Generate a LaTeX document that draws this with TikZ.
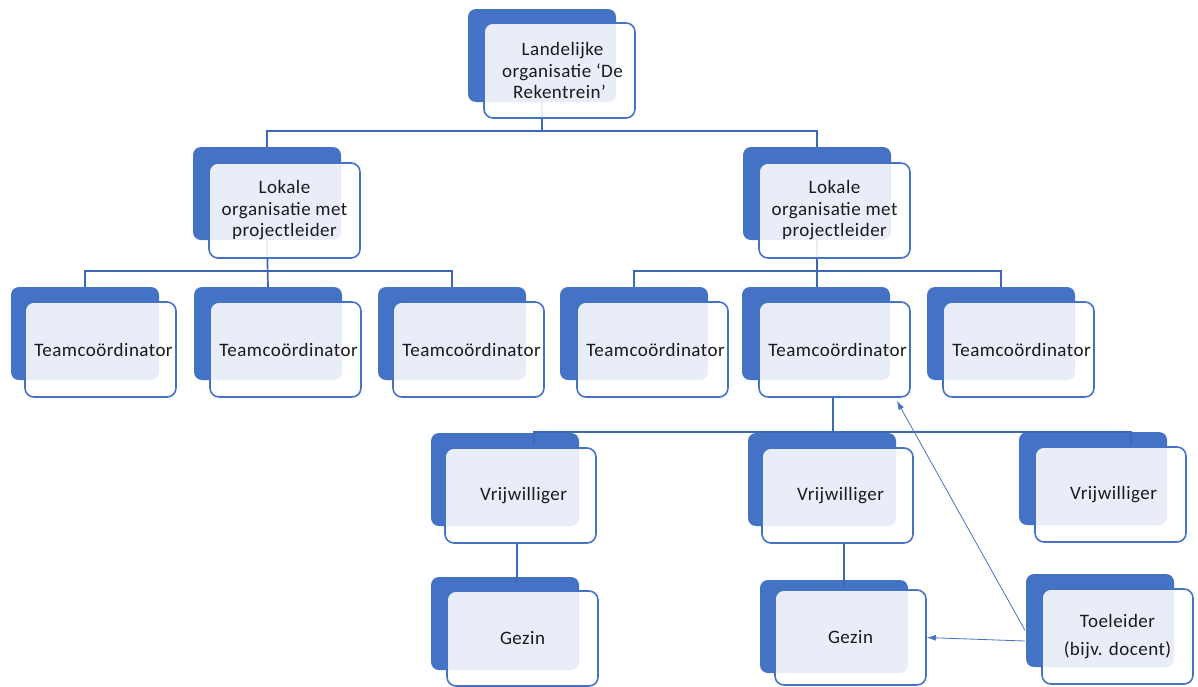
\documentclass[tikz,border=0pt]{standalone}
\usepackage{fontspec}
\setmainfont{Carlito}[LetterSpace=2.5]
\usetikzlibrary{arrows.meta,calc}
\pgfdeclarelayer{bg}
\pgfdeclarelayer{fg}
\pgfsetlayers{bg,main,fg}
\definecolor{acc}{HTML}{4472C4}
\definecolor{lnk}{HTML}{3D68B8}
\definecolor{txt}{HTML}{1A1A1A}
\tikzset{
  backbox/.style={draw=none, fill=acc, rounded corners=8pt, minimum width=148pt, minimum height=93pt, inner sep=0pt},
  frontbox/.style={draw=acc, line width=1.6pt, fill=white, fill opacity=0.88, text opacity=1, rounded corners=9pt,
    minimum width=151pt, minimum height=95pt, inner sep=0pt, align=center, text=txt,
    font=\fontsize{19}{21.5}\selectfont},
  conn/.style={draw=lnk, line width=1.7pt},
  arr/.style={draw=acc, line width=0.8pt, -{Latex[length=9pt,width=6pt]}}
}
\begin{document}
\begin{tikzpicture}[x=1pt,y=-1pt]
\useasboundingbox (0,0) rectangle (1198,686);
% back boxes
\begin{pgfonlayer}{bg}
\node[backbox] (topB) at (542,55.5) {};
\node[backbox] (LaB) at (267,193.5) {};
\node[backbox] (LbB) at (817,193.5) {};
\node[backbox] (T1B) at (85,333.5) {};
\node[backbox] (T2B) at (268,333.5) {};
\node[backbox] (T3B) at (452,333.5) {};
\node[backbox] (T4B) at (634,333.5) {};
\node[backbox] (T5B) at (816,333.5) {};
\node[backbox] (T6B) at (1001,333.5) {};
\node[backbox] (V1B) at (505,479.5) {};
\node[backbox] (V2B) at (822,479.5) {};
\node[backbox] (V3B) at (1093,478.5) {};
\node[backbox] (G1B) at (505,623.5) {};
\node[backbox] (G2B) at (834,626.5) {};
\node[backbox] (TLB) at (1100,620.5) {};
\end{pgfonlayer}
% front boxes
\begin{pgfonlayer}{fg}
\node[frontbox] (topF) at (559.5,70.5) {\hspace*{6pt}Landelijke\\\hspace*{6pt}organisatie ‘De\\Rekentrein’};
\node[frontbox] (LaF) at (284.5,210.5) {Lokale\\organisatie met\\projectleider};
\node[frontbox] (LbF) at (834.5,210.5) {Lokale\\organisatie met\\projectleider};
\node[frontbox] (T1F) at (100.5,349.5) {\hspace*{6pt}Teamcoördinator};
\node[frontbox] (T2F) at (285.5,349.5) {\hspace*{6pt}Teamcoördinator};
\node[frontbox] (T3F) at (468.5,349.5) {\hspace*{6pt}Teamcoördinator};
\node[frontbox] (T4F) at (652.5,349.5) {\hspace*{6pt}Teamcoördinator};
\node[frontbox] (T5F) at (834.5,349.5) {\hspace*{6pt}Teamcoördinator};
\node[frontbox] (T6F) at (1018.5,349.5) {\hspace*{6pt}Teamcoördinator};
\node[frontbox] (V1F) at (520.5,495.5) {\hspace*{6pt}Vrijwilliger};
\node[frontbox] (V2F) at (837.5,495.5) {\hspace*{6pt}Vrijwilliger};
\node[frontbox] (V3F) at (1110.5,494.5) {\hspace*{6pt}Vrijwilliger};
\node[frontbox] (G1F) at (522.5,638.5) {Gezin};
\node[frontbox] (G2F) at (850.5,637.5) {Gezin};
\node[frontbox] (TLF) at (1117.5,636.5) {Toeleider\\[7pt](bijv. docent)};
\end{pgfonlayer}
% connectors
\coordinate (bus1) at ($(topB.south)+(0,29)$);
\draw[conn] (topB.south) -- (bus1);
\draw[conn] (LaB.north) |- (bus1) -| (LbB.north);
\coordinate (busA) at ($(LaB.south)+(0,31)$);
\draw[conn] (LaB.south) -- (T2B.north);
\draw[conn] (T1B.north) |- (busA) -| (T3B.north);
\coordinate (busB) at ($(LbB.south)+(0,31)$);
\draw[conn] (LbB.south) -- (T5B.north -| LbB.south);
\draw[conn] (T4B.north) |- (busB) -| (T6B.north);
\coordinate (busC) at ($(T5F.south)+(-1.5,34)$);
\coordinate (d1) at ($(V1B.north west)+(103,12)$);
\coordinate (d3) at ($(V3B.north west)+(112,13)$);
\draw[conn] ($(T5F.south)+(-1.5,0)$) -- (busC);
\draw[conn] (d1) |- (busC) -| (d3);
\coordinate (v1a) at ($(V1F.south)+(-3.5,0)$);
\draw[conn] (v1a) -- (v1a |- G1B.north) -- ++(0,6);
\coordinate (v2a) at ($(V2F.south)+(6.5,0)$);
\draw[conn] (v2a) -- (v2a |- G2B.north) -- ++(0,6);
% arrows from Toeleider
\draw[arr] ($(TLB.west)+(-1,9.5)$) -- ($(T5F.south east)+(-14,3)$);
\draw[arr] ($(TLB.west)+(-1,20.5)$) -- (G2F.east);
\end{tikzpicture}
\end{document}
